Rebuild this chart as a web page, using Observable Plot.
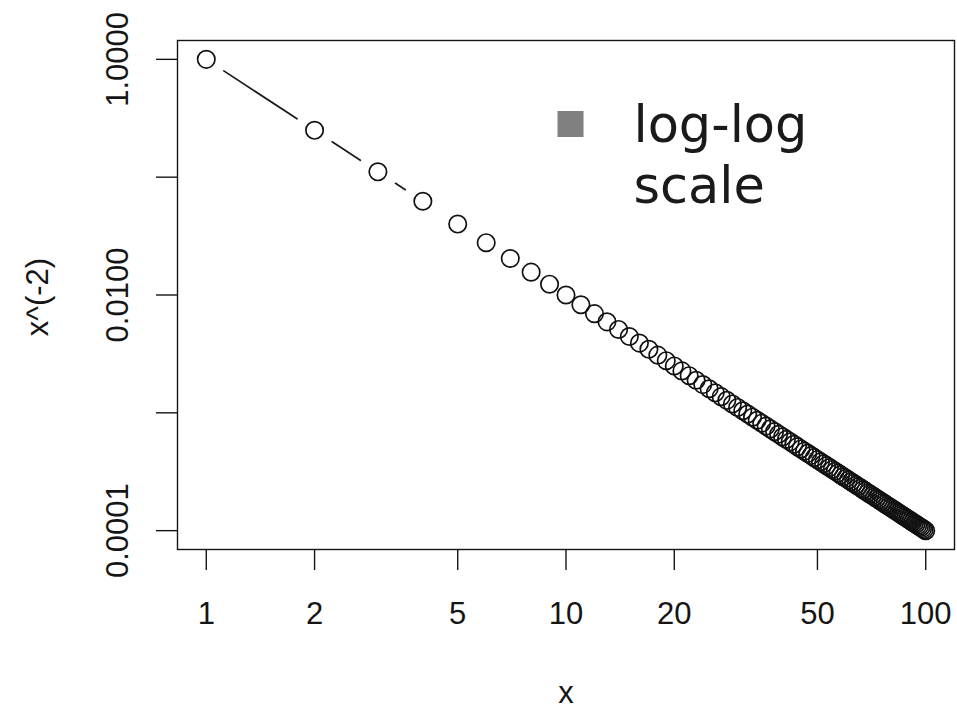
<!DOCTYPE html>
<html>
<head>
<meta charset="utf-8">
<script src="https://cdn.jsdelivr.net/npm/d3@7"></script>
<script src="https://cdn.jsdelivr.net/npm/@observablehq/plot@0.6"></script>
<style>
  html, body { margin: 0; padding: 0; background: #fff; }
  #chart svg { display: block; }
</style>
</head>
<body>
<div id="chart"></div>
<script>
const xs = [1,2,3,4,5,6,7,8,9,10,11,12,13,14,15,16,17,18,19,20,21,22,23,24,25,26,27,28,29,30,31,32,33,34,35,36,37,38,39,40,41,42,43,44,45,46,47,48,49,50,51,52,53,54,55,56,57,58,59,60,61,62,63,64,65,66,67,68,69,70,71,72,73,74,75,76,77,78,79,80,81,82,83,84,85,86,87,88,89,90,91,92,93,94,95,96,97,98,99,100];
const ys = [1,0.25,0.1111,0.0625,0.04,0.02778,0.02041,0.01563,0.01235,0.01,
  0.008264,0.006944,0.005917,0.005102,0.004444,0.003906,0.00346,0.003086,0.00277,0.0025,
  0.002268,0.002066,0.00189,0.001736,0.0016,0.001479,0.001372,0.001276,0.001189,0.001111,
  0.001041,0.0009766,0.0009183,0.000865,0.0008163,0.0007716,0.0007305,0.0006925,0.0006575,0.000625,
  0.0005949,0.0005669,0.0005408,0.0005165,0.0004938,0.0004726,0.0004527,0.000434,0.0004165,0.0004,
  0.0003845,0.0003698,0.000356,0.0003429,0.0003306,0.0003189,0.0003078,0.0002973,0.0002873,0.0002778,
  0.0002687,0.0002601,0.000252,0.0002441,0.0002367,0.0002296,0.0002228,0.0002163,0.00021,0.0002041,
  0.0001984,0.0001929,0.0001877,0.0001826,0.0001778,0.0001731,0.0001687,0.0001644,0.0001602,0.0001563,
  0.0001524,0.0001487,0.0001452,0.0001417,0.0001384,0.0001352,0.0001321,0.0001291,0.0001262,0.0001235,
  0.0001208,0.0001181,0.0001156,0.0001132,0.0001108,0.0001085,0.0001063,0.0001041,0.000102,0.0001];
const xTicks = [1, 2, 5, 10, 20, 50, 100];
const yTicks = [1, 0.1, 0.01, 0.001, 0.0001];
const yTickLabels = [[1, "1.0000"], [0.01, "0.0100"], [0.0001, "0.0001"]];
const xLabel = "x";
const yLabel = "x^(-2)";
const legendLabel = "log-log\nscale";

const points = xs.map((x, i) => ({x, y: ys[i]}));
const segments = points.slice(1).map((p, i) => ({x1: points[i].x, y1: points[i].y, x2: p.x, y2: p.y}));
const ylab = new Map(yTickLabels);

const font = "'Liberation Sans', Arial, sans-serif";
const ink = "#151515";
const plot = Plot.plot({
  width: 957,
  height: 710,
  marginLeft: 177,
  marginRight: 3,
  marginTop: 40,
  marginBottom: 161,
  style: {fontFamily: font, background: "#fff", color: ink},
  x: {type: "log", domain: [Math.pow(10, -0.08), Math.pow(10, 2.08)], axis: null},
  y: {type: "log", domain: [Math.pow(10, -4.16), Math.pow(10, 0.16)], axis: null},
  marks: [
    Plot.frame({stroke: ink, strokeWidth: 1.4}),
    Plot.axisX({ticks: xTicks, tickSize: 21, tickPadding: 31, tickFormat: d => String(d), fontSize: 31, stroke: ink, strokeWidth: 1.4, label: null}),
    Plot.axisY({ticks: yTicks, tickSize: 21, tickFormat: () => "", stroke: ink, strokeWidth: 1.4, label: null}),
    Plot.text(yTickLabels.map(d => d[0]), {y: d => d, text: d => ylab.get(d), frameAnchor: "left", dx: -50, rotate: -90, textAnchor: "middle", lineAnchor: "bottom", fontSize: 31, fill: ink}),
    Plot.text([yLabel], {frameAnchor: "left", dx: -130, dy: 2, rotate: -90, textAnchor: "middle", lineAnchor: "bottom", fontSize: 31, fill: ink}),
    Plot.text([xLabel], {frameAnchor: "bottom", dy: 153, lineAnchor: "bottom", fontSize: 31, fill: ink}),
    Plot.arrow(segments, {x1: "x1", y1: "y1", x2: "x2", y2: "y2", headLength: 0, insetStart: 21, insetEnd: 21, stroke: "#1a1a1a", strokeWidth: 1.7}),
    Plot.dot(points, {x: "x", y: "y", r: 8.7, stroke: "#111", strokeWidth: 1.7, fill: "none"}),
    Plot.dot([0], {frameAnchor: "top-left", dx: 393, dy: 83.5, symbol: "square", r: 14.7, fill: "#808080"}),
    Plot.text([legendLabel], {frameAnchor: "top-left", dx: 456, dy: 58, textAnchor: "start", lineAnchor: "top", lineHeight: 1.2, fontSize: 51, fontFamily: "'DejaVu Sans', sans-serif", fill: "#1a1a1a"})
  ]
});
document.getElementById("chart").appendChild(plot);
</script>
</body>
</html>
